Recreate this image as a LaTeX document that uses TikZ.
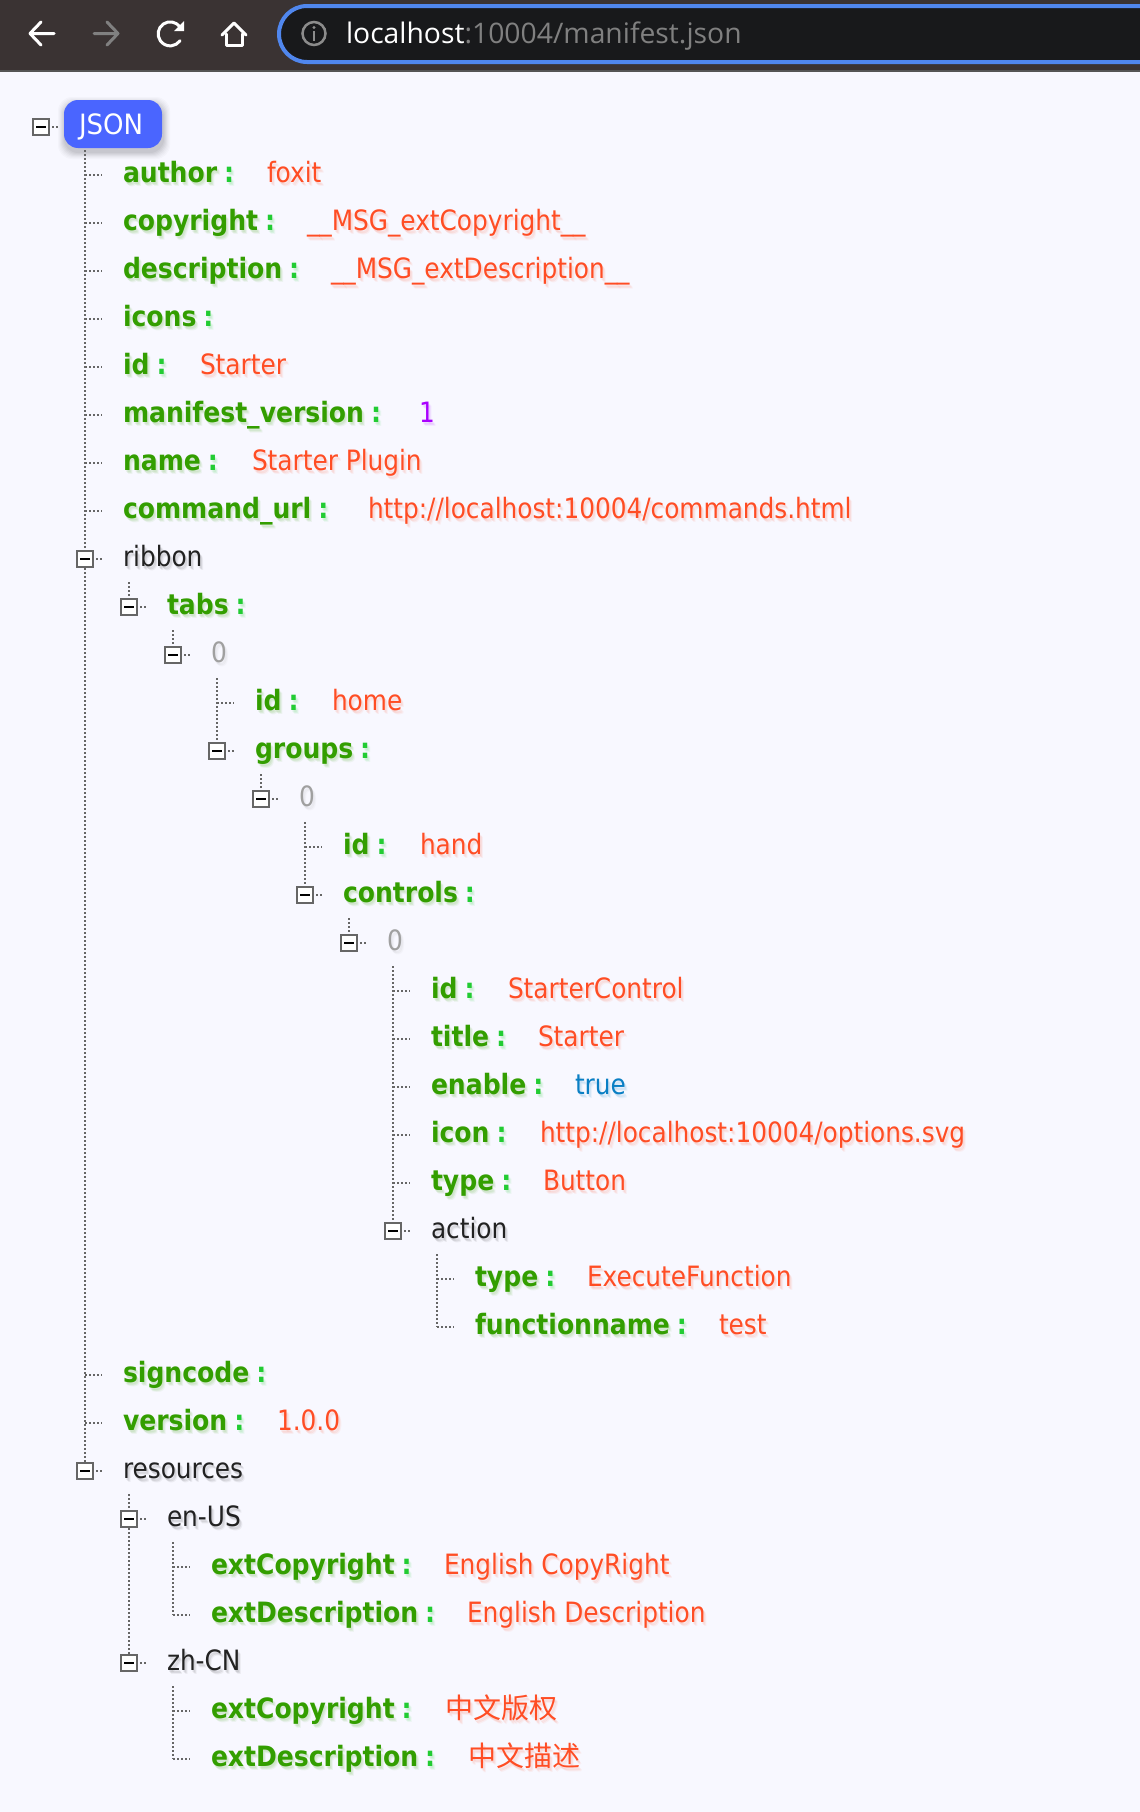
\documentclass[tikz,border=0pt]{standalone}
\usepackage{fontspec}
\newfontfamily\treefont{DejaVu Sans}[FakeStretch=0.885]
\newfontfamily\rootfont{DejaVu Sans}[FakeStretch=0.93]
\newfontfamily\keyfont{DejaVu Sans Bold}[FakeStretch=0.895]
\newfontfamily\urlfont{Open Sans}
\newfontfamily\cjkfont{Noto Sans CJK SC}
\definecolor{pagebg}{HTML}{F8F8FF}
\definecolor{chrome}{HTML}{3A3333}
\definecolor{chromeline}{HTML}{555555}
\definecolor{barfill}{HTML}{18191B}
\definecolor{barline}{HTML}{5087EE}
\definecolor{keygreen}{HTML}{339E00}
\definecolor{colongreen}{HTML}{22CC33}
\definecolor{valred}{HTML}{FF4D24}
\definecolor{numpurple}{HTML}{AA00FF}
\definecolor{boolblue}{HTML}{0A7FC4}
\definecolor{idxgrey}{HTML}{A0A0A0}
\definecolor{plaintext}{HTML}{222222}
\definecolor{jsonblue}{HTML}{4A65FF}
\definecolor{dotgrey}{HTML}{666666}
\tikzset{
  lbl/.style={inner sep=0pt,outer sep=0pt,anchor=base west,font=\treefont\fontsize{28}{32}\selectfont},
  keytext/.style={lbl,text=keygreen,font=\keyfont\fontsize{28}{32}\selectfont},
  dots/.style={draw=dotgrey,line width=2pt,dash pattern=on 2pt off 2pt},
  toggle/.style={draw=dotgrey,line width=2pt,fill=white,minimum size=16pt,inner sep=0pt,outer sep=1pt,rectangle},
  minusbar/.style={draw=black,line width=2.4pt},
  icon/.style={draw=white,line width=3pt,line cap=round,line join=round},
}
% row text with its soft text-shadow: name, x, row, style, text
\newcommand{\rowtext}[5]{%
  \node[#4,opacity=.07] (#1s1) at ({#2},{136.4+48*#3}) {#5};
  \node[#4,opacity=.09] (#1s2) at ({#2+1},{137.4+48*#3}) {#5};
  \node[#4,opacity=.06] (#1s3) at ({#2+2},{138.4+48*#3}) {#5};
  \node[#4] (#1) at ({#2-1},{134.4+48*#3}) {#5};
}
\newcommand{\colonmark}{\kern7pt{\color{colongreen}:}}
% key : value  -- name,x,row,key,valuex,colour,value
\newcommand{\keyval}[7]{%
  \rowtext{#1}{#2}{#3}{keytext}{#4\colonmark}%
  \rowtext{#1v}{#5+1}{#3}{lbl,text=#6}{#7}%
}
% leaf connector: name, spine x, row
\newcommand{\leafstub}[3]{%
  \coordinate (#1a) at ({#2},{127+48*#3});
  \coordinate (#1b) at ({#2+17},{127+48*#3});
  \draw[dots] (#1a) -- (#1b);
}
% toggle: name, centre x, row
\newcommand{\togglebox}[3]{%
  \node[toggle] (#1) at ({#2},{127+48*#3}) {};
  \draw[minusbar] ({#2-5},{127+48*#3}) -- ({#2+5},{127+48*#3});
  \coordinate (#1e) at ({#2+17},{127+48*#3});
  \draw[dots] (#1.east) ++(2,0) -- (#1e);
}
\begin{document}
\begin{tikzpicture}[x=1pt,y=-1pt]
\useasboundingbox (0,0) rectangle (1140,1812);
\fill[pagebg] (0,0) rectangle (1140,1812);
% browser chrome
\fill[chrome] (0,0) rectangle (1140,70);
\fill[chromeline] (0,70) rectangle (1140,72);
\draw[barline,line width=4pt,fill=barfill,rounded corners=28pt] (279,6) rectangle (1190,62);
% icons
\draw[icon] (54,33.5) -- (30,33.5) (41,22) -- (30,33.5) -- (41,45);
\draw[icon,draw=gray] (118,33.5) -- (94,33.5) (107,22) -- (118,33.5) -- (107,45);
\draw[icon] (180,27) arc (-35:-325:12);
\fill[white] (184,21) -- (184,31) -- (174,31) -- cycle;
\draw[icon] (222,35) -- (234,23) -- (246,35);
\draw[icon] (226,34) -- (226,45.5) -- (242,45.5) -- (242,34);
\node[circle,draw=gray!90,line width=2.5pt,minimum size=23pt,inner sep=0pt] (infoicon) at (314,33.5) {};
\fill[gray!90] (312.6,31) rectangle (315.4,41);
\fill[gray!90] (314,27.5) circle (1.7);
\node[lbl,anchor=base west,font=\urlfont\fontsize{28.3}{32}\selectfont,text=white] (urlhost) at (346,43.5) {localhost};
\node[lbl,anchor=base west,font=\urlfont\fontsize{28.3}{32}\selectfont,text=gray] (urlpath) at (urlhost.base east) {:10004/manifest.json};
% JSON root
\foreach \g/\o in {7/.02,6/.02,5/.025,4/.03,3/.03,2/.035,1/.04}{
  \fill[black,opacity=\o,rounded corners=14pt] ({64+1-\g},{100+4-\g}) rectangle ({162+1+\g},{148+4+\g});
}
\node[fill=jsonblue,rounded corners=14pt,minimum width=98pt,minimum height=48pt,inner sep=0pt] (root) at (113,124) {};
\node[lbl,text=white,font=\rootfont\fontsize{28}{32}\selectfont] (roottext) at (79,134) {JSON};
\togglebox{t0}{41}{0}
% labels
\keyval{author}{124}{1}{author}{267}{valred}{foxit}
\keyval{copyright}{124}{2}{copyright}{307}{valred}{\_\_MSG\_extCopyright\_\_}
\keyval{description}{124}{3}{description}{331}{valred}{\_\_MSG\_extDescription\_\_}
\rowtext{icons}{124}{4}{keytext}{icons\colonmark}
\keyval{idtop}{124}{5}{id}{200}{valred}{Starter}
\keyval{manifest}{124}{6}{manifest\_version}{419}{numpurple}{1}
\keyval{name}{124}{7}{name}{252}{valred}{Starter Plugin}
\keyval{command}{124}{8}{command\_url}{368}{valred}{http://localhost:10004/commands.html}
\rowtext{ribbon}{124}{9}{lbl,text=plaintext}{ribbon}
\rowtext{tabs}{168}{10}{keytext}{tabs\colonmark}
\rowtext{zeroa}{212}{11}{lbl,text=idxgrey}{0}
\keyval{idhome}{256}{12}{id}{332}{valred}{home}
\rowtext{groups}{256}{13}{keytext}{groups\colonmark}
\rowtext{zerob}{300}{14}{lbl,text=idxgrey}{0}
\keyval{idhand}{344}{15}{id}{420}{valred}{hand}
\rowtext{controls}{344}{16}{keytext}{controls\colonmark}
\rowtext{zeroc}{388}{17}{lbl,text=idxgrey}{0}
\keyval{idctl}{432}{18}{id}{508}{valred}{StarterControl}
\keyval{title}{432}{19}{title}{538}{valred}{Starter}
\keyval{enable}{432}{20}{enable}{575}{boolblue}{true}
\keyval{iconurl}{432}{21}{icon}{540}{valred}{http://localhost:10004/options.svg}
\keyval{typea}{432}{22}{type}{543}{valred}{Button}
\rowtext{action}{432}{23}{lbl,text=plaintext}{action}
\keyval{typeb}{476}{24}{type}{587}{valred}{ExecuteFunction}
\keyval{fname}{476}{25}{functionname}{719}{valred}{test}
\rowtext{signcode}{124}{26}{keytext}{signcode\colonmark}
\keyval{version}{124}{27}{version}{277}{valred}{1.0.0}
\rowtext{resources}{124}{28}{lbl,text=plaintext}{resources}
\rowtext{enus}{168}{29}{lbl,text=plaintext}{en-US}
\keyval{copyen}{212}{30}{extCopyright}{444}{valred}{English CopyRight}
\keyval{descen}{212}{31}{extDescription}{467}{valred}{English Description}
\rowtext{zhcn}{168}{32}{lbl,text=plaintext}{zh-CN}
\keyval{copyzh}{212}{33}{extCopyright}{445}{valred}{\cjkfont 中文版权}
\keyval{desczh}{212}{34}{extDescription}{468}{valred}{\cjkfont 中文描述}
% toggles
\togglebox{t9}{85}{9}
\togglebox{t10}{129}{10}
\togglebox{t11}{173}{11}
\togglebox{t13}{217}{13}
\togglebox{t14}{261}{14}
\togglebox{t16}{305}{16}
\togglebox{t17}{349}{17}
\togglebox{t23}{393}{23}
\togglebox{t28}{85}{28}
\togglebox{t29}{129}{29}
\togglebox{t32}{129}{32}
% leaf stubs
\foreach \r in {1,...,8}{\leafstub{l\r}{85}{\r}}
\leafstub{l12}{217}{12}
\leafstub{l15}{305}{15}
\foreach \r in {18,...,22}{\leafstub{l\r}{393}{\r}}
\leafstub{l24}{437}{24}
\leafstub{l25}{437}{25}
\leafstub{l26}{85}{26}
\leafstub{l27}{85}{27}
\leafstub{l30}{173}{30}
\leafstub{l31}{173}{31}
\leafstub{l33}{173}{33}
\leafstub{l34}{173}{34}
% spines
\coordinate (s1) at (85,150);
\draw[dots] (s1) -- (t9.north);
\draw[dots] (t9.south) -- (t28.north);
\coordinate (s10) at (129,582);
\draw[dots] (s10) -- (t10.north);
\coordinate (s11) at (173,630);
\draw[dots] (s11) -- (t11.north);
\coordinate (s12) at (217,678);
\draw[dots] (s12) -- (t13.north);
\coordinate (s14) at (261,774);
\draw[dots] (s14) -- (t14.north);
\coordinate (s15) at (305,822);
\draw[dots] (s15) -- (t16.north);
\coordinate (s17) at (349,918);
\draw[dots] (s17) -- (t17.north);
\coordinate (s18) at (393,966);
\draw[dots] (s18) -- (t23.north);
\coordinate (s24) at (437,1254);
\draw[dots] (s24) -- (l25a);
\coordinate (s29) at (129,1494);
\draw[dots] (s29) -- (t29.north);
\draw[dots] (t29.south) -- (t32.north);
\coordinate (s30) at (173,1542);
\draw[dots] (s30) -- (l31a);
\coordinate (s33) at (173,1686);
\draw[dots] (s33) -- (l34a);
\end{tikzpicture}
\end{document}
